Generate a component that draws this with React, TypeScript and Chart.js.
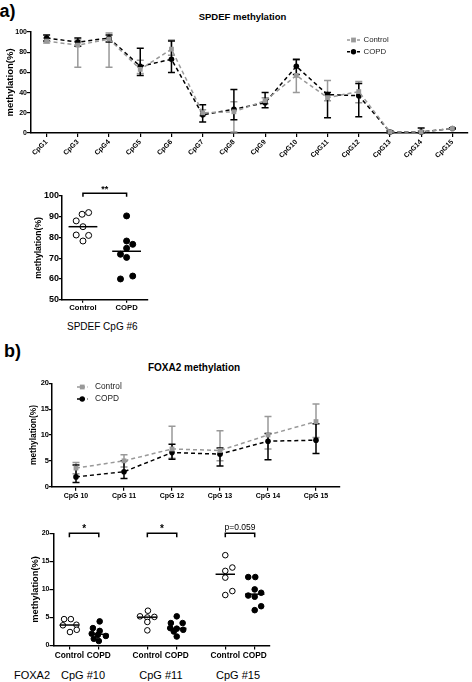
import React, { useEffect, useRef } from "react";
import { Chart, registerables } from "chart.js";

Chart.register(...registerables);

const FONT = "'Liberation Sans', Arial, Helvetica, sans-serif";
Chart.defaults.font.family = FONT;
Chart.defaults.color = "#000";

const GRAY = "#999999";
const BLACK = "#000000";

// ---------- a) SPDEF methylation profile ----------
const spdefSites = ["CpG1", "CpG3", "CpG4", "CpG5", "CpG6", "CpG7", "CpG8", "CpG9", "CpG10", "CpG11", "CpG12", "CpG13", "CpG14", "CpG15"];
const spdefControlMean = [91, 87, 93, 63, 83, 20, 21, 32, 57, 35, 41, 1, 1, 4.5];
const spdefControlHigh = [94, 92, 99, 72, 92, 23, 31, 35, 72, 52, 51, 2, 2, 5];
const spdefControlLow = [89, 65, 65, 59, 77, 17, 1, 29, 40, 32, 30, 0, 0, 4];
const spdefCopdMean = [94, 90, 94, 66, 73, 18, 23.5, 30, 66, 38, 37, 1, 1, 4.5];
const spdefCopdHigh = [97, 94, 97, 84, 91, 28, 43, 40, 73, 40, 49, 2, 5, 5];
const spdefCopdLow = [91, 86, 90, 57, 60, 11, 13, 25, 58, 15, 16, 0, 0, 4];

// ---------- a) SPDEF CpG #6 scatter ----------
const groupLabels = ["Control", "COPD"];
const cpg6Positions = [1, 2];
const cpg6Control = [88, 91.2, 92, 85.2, 81.2, 81, 78.3];
const cpg6ControlJitter = [-0.155, -0.02, 0.13, 0, -0.155, 0.13, 0];
const cpg6Copd = [90.4, 78.3, 76.7, 74.8, 71.9, 70.4, 60, 61.4];
const cpg6CopdJitter = [0, 0, 0.14, 0, -0.14, 0, -0.14, 0.14];
const cpg6Significance = "**";

// ---------- b) FOXA2 methylation profile ----------
const foxa2Sites = ["CpG 10", "CpG 11", "CpG 12", "CpG 13", "CpG 14", "CpG 15"];
const foxa2ControlMean = [3.6, 5.0, 7.3, 7.0, 10.0, 12.6];
const foxa2ControlHigh = [4.7, 6.2, 11.7, 10.8, 13.6, 16.0];
const foxa2ControlLow = [2.5, 3.8, 5.5, 5.0, 7.3, 9.5];
const foxa2CopdMean = [1.9, 2.9, 6.6, 6.3, 8.8, 9.0];
const foxa2CopdHigh = [4.2, 5.0, 8.2, 7.5, 10.3, 12.2];
const foxa2CopdLow = [0.8, 1.6, 5.3, 4.0, 5.2, 6.4];

// ---------- b) FOXA2 scatter (CpG #10, #11, #15) ----------
const foxa2ScatterSites = ["CpG #10", "CpG #11", "CpG #15"];
const foxa2ScatterPositions = [1, 2, 3.65, 4.65, 6.3, 7.3];
const foxa2ScatterControl = [
  [4.7, 4.7, 3.6, 3.7, 2.4, 2.8],
  [6.2, 5.2, 5.0, 5.1, 4.2, 2.7],
  [16.1, 13.3, 13.9, 12.1, 9.0, 9.7],
];
const foxa2ScatterControlJitter = [
  [-0.18, 0.05, -0.22, 0.24, 0.02, 0.25],
  [0.02, -0.25, 0.0, 0.24, 0.0, 0.0],
  [0.0, 0.0, 0.24, 0.0, 0.0, 0.24],
];
const foxa2ScatterCopd = [
  [4.3, 3.1, 2.6, 2.1, 1.9, 1.7, 1.2, 0.8],
  [5.2, 4.0, 4.0, 3.1, 3.0, 2.8, 2.5, 1.6],
  [12.2, 12.2, 10.0, 9.4, 8.9, 8.7, 7.0, 6.3],
];
const foxa2ScatterCopdJitter = [
  [0.03, -0.2, 0.03, -0.24, -0.03, 0.24, -0.17, 0.0],
  [0.0, -0.2, 0.2, -0.22, 0.0, 0.22, -0.1, 0.0],
  [-0.22, 0.02, 0.0, 0.22, -0.22, 0.0, 0.22, 0.0],
];
const foxa2Significance = ["*", "*", "p=0.059"];

// ---------- plugins ----------
const errorBarPlugin = {
  id: "errorBars",
  beforeDatasetsDraw(chart: any, _args: any, opts: any) {
    const ctx = chart.ctx;
    const ys = chart.scales.y;
    const cap = (opts && opts.cap) || 3.5;
    chart.data.datasets.forEach((ds: any, di: number) => {
      if (!ds.errHigh) return;
      const meta = chart.getDatasetMeta(di);
      ctx.save();
      ctx.strokeStyle = ds.borderColor;
      ctx.lineWidth = 1.5;
      ctx.setLineDash([]);
      meta.data.forEach((pt: any, i: number) => {
        const x = pt.x;
        const yh = ys.getPixelForValue(ds.errHigh[i]);
        const yl = ys.getPixelForValue(ds.errLow[i]);
        ctx.beginPath();
        ctx.moveTo(x, yh);
        ctx.lineTo(x, yl);
        ctx.moveTo(x - cap, yh);
        ctx.lineTo(x + cap, yh);
        ctx.moveTo(x - cap, yl);
        ctx.lineTo(x + cap, yl);
        ctx.stroke();
      });
      ctx.restore();
    });
  },
};

const dashLegendPlugin = {
  id: "dashLegend",
  afterDraw(chart: any, _args: any, opts: any) {
    if (!opts || opts.x == null) return;
    const ctx = chart.ctx;
    chart.data.datasets.forEach((ds: any, k: number) => {
      const y = opts.y + k * opts.spacing;
      const color = ds.borderColor;
      ctx.save();
      ctx.strokeStyle = color;
      ctx.lineWidth = 1.5;
      ctx.setLineDash([3, 2]);
      ctx.beginPath();
      ctx.moveTo(opts.x, y);
      ctx.lineTo(opts.x + opts.lineLength, y);
      ctx.stroke();
      ctx.setLineDash([]);
      ctx.fillStyle = color;
      const cx = opts.x + opts.lineLength / 2;
      if (ds.pointStyle === "rect") {
        ctx.fillRect(cx - 2.4, y - 2.4, 4.8, 4.8);
      } else {
        ctx.beginPath();
        ctx.arc(cx, y, 2.7, 0, Math.PI * 2);
        ctx.fill();
      }
      ctx.fillStyle = "#222";
      ctx.font = opts.font;
      ctx.textBaseline = "middle";
      ctx.textAlign = "left";
      ctx.fillText(ds.label, opts.x + opts.lineLength + opts.gap, y);
      ctx.restore();
    });
  },
};

const medianPlugin = {
  id: "medians",
  afterDatasetsDraw(chart: any, _args: any, opts: any) {
    const ctx = chart.ctx;
    const xs = chart.scales.x;
    const ys = chart.scales.y;
    chart.data.datasets.forEach((ds: any) => {
      if (ds.center == null) return;
      const vals = ds.data.map((p: any) => p.y).sort((a: number, b: number) => a - b);
      const n = vals.length;
      const med = n % 2 ? vals[(n - 1) / 2] : (vals[n / 2 - 1] + vals[n / 2]) / 2;
      const y = ys.getPixelForValue(med);
      ctx.save();
      ctx.strokeStyle = BLACK;
      ctx.lineWidth = 1.5;
      ctx.beginPath();
      ctx.moveTo(xs.getPixelForValue(ds.center - opts.halfWidth), y);
      ctx.lineTo(xs.getPixelForValue(ds.center + opts.halfWidth), y);
      ctx.stroke();
      ctx.restore();
    });
  },
};

const bracketPlugin = {
  id: "brackets",
  afterDraw(chart: any, _args: any, opts: any) {
    if (!opts || !opts.items) return;
    const ctx = chart.ctx;
    const xs = chart.scales.x;
    const ys = chart.scales.y;
    opts.items.forEach((b: any) => {
      const x1 = xs.getPixelForValue(b.from);
      const x2 = xs.getPixelForValue(b.to);
      const y = ys.getPixelForValue(b.at) - opts.lift;
      ctx.save();
      ctx.strokeStyle = BLACK;
      ctx.lineWidth = 1.5;
      ctx.beginPath();
      ctx.moveTo(x1, y + opts.leg);
      ctx.lineTo(x1, y);
      ctx.lineTo(x2, y);
      ctx.lineTo(x2, y + opts.leg);
      ctx.stroke();
      ctx.fillStyle = BLACK;
      ctx.font = b.font;
      ctx.textAlign = "center";
      ctx.textBaseline = "alphabetic";
      ctx.fillText(b.label, (x1 + x2) / 2, y - b.gap);
      ctx.restore();
    });
  },
};

// ---------- helpers ----------
function tickAxis(size: number, tickLen: number, pad: number, extraTicks: any = {}) {
  return {
    border: { display: true, color: BLACK, width: 1.5 },
    grid: { display: true, drawOnChartArea: false, drawTicks: true, tickLength: tickLen, color: BLACK, lineWidth: 1.2, offset: false },
    ticks: { color: BLACK, font: { family: FONT, size, weight: "bold" }, padding: pad, autoSkip: false, ...extraTicks },
  };
}

function yTitle(size: number, pad: number) {
  return { display: true, text: "methylation(%)", color: BLACK, font: { family: FONT, size, weight: "bold" }, padding: { top: pad, bottom: 0 } };
}

function profileDataset(label: string, mean: number[], low: number[], high: number[], color: string, shape: string) {
  return {
    label,
    data: mean,
    errLow: low,
    errHigh: high,
    borderColor: color,
    backgroundColor: color,
    pointBackgroundColor: color,
    pointBorderColor: color,
    borderWidth: 1.5,
    borderDash: [4, 3],
    pointStyle: shape,
    pointRadius: shape === "rect" ? 3.4 : 2.8,
    pointBorderWidth: 0,
    tension: 0,
    fill: false,
    clip: false,
  };
}

function scatterDataset(label: string, center: number, values: number[], jitter: number[], filled: boolean, radius: number) {
  return {
    label,
    center,
    data: values.map((v, i) => ({ x: center + jitter[i], y: v })),
    pointStyle: "circle",
    pointRadius: radius,
    pointBorderWidth: 1,
    pointBorderColor: BLACK,
    pointBackgroundColor: filled ? BLACK : "#ffffff",
    borderColor: BLACK,
    backgroundColor: filled ? BLACK : "#ffffff",
    showLine: false,
    clip: false,
  };
}

const baseOptions = {
  responsive: false,
  animation: false,
  devicePixelRatio: 1,
  events: [],
};

// ---------- chart configs ----------
function makeSpdefProfile() {
  return {
    type: "line",
    data: {
      labels: spdefSites,
      datasets: [
        profileDataset("Control", spdefControlMean, spdefControlLow, spdefControlHigh, GRAY, "rect"),
        profileDataset("COPD", spdefCopdMean, spdefCopdLow, spdefCopdHigh, BLACK, "circle"),
      ],
    },
    options: {
      ...baseOptions,
      layout: { padding: { left: 0, right: 3, top: 32, bottom: 0 } },
      plugins: {
        legend: { display: false },
        tooltip: { enabled: false },
        errorBars: { cap: 3.5 },
        dashLegend: { x: 347, y: 40, spacing: 11.7, lineLength: 13, gap: 3.5, font: `7.8px ${FONT}` },
      },
      scales: {
        x: {
          type: "category",
          offset: true,
          ...tickAxis(7, 4, 1, { maxRotation: 45, minRotation: 45 }),
          afterFit: (s: any) => {
            s.height = 32;
          },
        },
        y: {
          min: 0,
          max: 100,
          ...tickAxis(7, 4, 0, { stepSize: 20 }),
          title: yTitle(9.5, 4.8),
          afterFit: (s: any) => {
            s.width = 31;
          },
        },
      },
    },
    plugins: [errorBarPlugin, dashLegendPlugin],
  };
}

function makeCpg6Scatter() {
  return {
    type: "scatter",
    data: {
      datasets: [
        scatterDataset(groupLabels[0], cpg6Positions[0], cpg6Control, cpg6ControlJitter, false, 3),
        scatterDataset(groupLabels[1], cpg6Positions[1], cpg6Copd, cpg6CopdJitter, true, 3),
      ],
    },
    options: {
      ...baseOptions,
      layout: { padding: { left: 0, right: 12, top: 16, bottom: 0 } },
      plugins: {
        legend: { display: false },
        tooltip: { enabled: false },
        medians: { halfWidth: 0.33 },
        brackets: {
          lift: 2.7,
          leg: 3.4,
          items: [{ from: cpg6Positions[0], to: cpg6Positions[1], at: 100, label: cpg6Significance, font: `bold 9px ${FONT}`, gap: 1 }],
        },
      },
      scales: {
        x: {
          type: "linear",
          min: 0.52,
          max: 2.49,
          ...tickAxis(7.7, 3, 1, { callback: (_v: any, i: number) => groupLabels[i] }),
          afterBuildTicks: (s: any) => {
            s.ticks = cpg6Positions.map((v) => ({ value: v }));
          },
          afterFit: (s: any) => {
            s.height = 20.3;
          },
        },
        y: {
          min: 50,
          max: 100,
          ...tickAxis(9, 3, 0, { stepSize: 10 }),
          title: yTitle(8.6, 33.1),
          afterFit: (s: any) => {
            s.width = 62;
          },
        },
      },
    },
    plugins: [medianPlugin, bracketPlugin],
  };
}

function makeFoxa2Profile() {
  return {
    type: "line",
    data: {
      labels: foxa2Sites,
      datasets: [
        profileDataset("Control", foxa2ControlMean, foxa2ControlLow, foxa2ControlHigh, GRAY, "rect"),
        profileDataset("COPD", foxa2CopdMean, foxa2CopdLow, foxa2CopdHigh, BLACK, "circle"),
      ],
    },
    options: {
      ...baseOptions,
      layout: { padding: { left: 0, right: 10, top: 8.3, bottom: 0 } },
      plugins: {
        legend: { display: false },
        tooltip: { enabled: false },
        errorBars: { cap: 3.5 },
        dashLegend: { x: 77, y: 12, spacing: 12, lineLength: 10.5, gap: 7.5, font: `8.3px ${FONT}` },
      },
      scales: {
        x: {
          type: "category",
          offset: true,
          ...tickAxis(7, 4, 1, { maxRotation: 0, minRotation: 0 }),
          afterFit: (s: any) => {
            s.height = 18.3;
          },
        },
        y: {
          min: 0,
          max: 20,
          ...tickAxis(7.5, 3, 0, { stepSize: 5 }),
          title: yTitle(8.4, 28.3),
          afterFit: (s: any) => {
            s.width = 52;
          },
        },
      },
    },
    plugins: [errorBarPlugin, dashLegendPlugin],
  };
}

function makeFoxa2Scatter() {
  const datasets: any[] = [];
  const labels: string[] = [];
  const brackets: any[] = [];
  foxa2ScatterSites.forEach((_site, k) => {
    const pc = foxa2ScatterPositions[2 * k];
    const pd = foxa2ScatterPositions[2 * k + 1];
    datasets.push(scatterDataset(groupLabels[0], pc, foxa2ScatterControl[k], foxa2ScatterControlJitter[k], false, 2.8));
    datasets.push(scatterDataset(groupLabels[1], pd, foxa2ScatterCopd[k], foxa2ScatterCopdJitter[k], true, 2.8));
    labels.push(groupLabels[0], groupLabels[1]);
    const star = foxa2Significance[k].startsWith("*");
    brackets.push({
      from: pc,
      to: pd,
      at: 20,
      label: foxa2Significance[k],
      font: star ? `bold 10px ${FONT}` : `8.5px ${FONT}`,
      gap: star ? 1.8 : 3.3,
    });
  });
  return {
    type: "scatter",
    data: { datasets },
    options: {
      ...baseOptions,
      layout: { padding: { left: 0, right: 20, top: 13.3, bottom: 0 } },
      plugins: {
        legend: { display: false },
        tooltip: { enabled: false },
        medians: { halfWidth: 0.33 },
        brackets: { lift: 0, leg: 4, items: brackets },
      },
      scales: {
        x: {
          type: "linear",
          min: 0.46,
          max: 7.82,
          ...tickAxis(8.3, 4, 1, { callback: (_v: any, i: number) => labels[i] }),
          afterBuildTicks: (s: any) => {
            s.ticks = foxa2ScatterPositions.map((v) => ({ value: v }));
          },
          afterFit: (s: any) => {
            s.height = 19.5;
          },
        },
        y: {
          min: 0,
          max: 20,
          ...tickAxis(7, 4, 0, { stepSize: 5 }),
          title: yTitle(9.3, 29.9),
          afterFit: (s: any) => {
            s.width = 53.5;
          },
        },
      },
    },
    plugins: [medianPlugin, bracketPlugin],
  };
}

// ---------- components ----------
function ChartBox(props: { left: number; top: number; width: number; height: number; make: () => any }) {
  const { left, top, width, height, make } = props;
  const ref = useRef<HTMLCanvasElement | null>(null);
  useEffect(() => {
    if (!ref.current) return;
    const chart = new Chart(ref.current, make());
    return () => chart.destroy();
  }, [make]);
  return <canvas ref={ref} width={width} height={height} style={{ position: "absolute", left, top, width, height }} />;
}

function Label(props: { text: string; left: number; top: number; size: number; bold?: boolean; center?: boolean }) {
  const { text, left, top, size, bold, center } = props;
  return (
    <div
      style={{
        position: "absolute",
        left,
        top,
        fontFamily: FONT,
        fontSize: size,
        lineHeight: `${size}px`,
        fontWeight: bold ? "bold" : "normal",
        color: "#000",
        whiteSpace: "nowrap",
        transform: center ? "translateX(-50%)" : undefined,
      }}
    >
      {text}
    </div>
  );
}

export default function App() {
  return (
    <div style={{ position: "fixed", left: 0, top: 0, width: 472, height: 682, background: "#fff", overflow: "hidden" }}>
      <Label text="a)" left={-0.5} top={1.5} size={18} bold />
      <Label text="SPDEF methylation" left={242.5} top={12.3} size={9.5} bold center />
      <ChartBox left={0} top={0} width={472} height={165} make={makeSpdefProfile} />
      <ChartBox left={0} top={180} width={160} height={140} make={makeCpg6Scatter} />
      <Label text="SPDEF CpG #6" left={67} top={322} size={10} />
      <Label text="b)" left={4} top={341.5} size={18} bold />
      <Label text="FOXA2 methylation" left={194} top={363} size={10} bold center />
      <ChartBox left={0} top={375} width={350} height={130} make={makeFoxa2Profile} />
      <ChartBox left={0} top={520} width={290} height={145} make={makeFoxa2Scatter} />
      <Label text="FOXA2" left={14} top={669.6} size={11} />
      <Label text={foxa2ScatterSites[0]} left={61} top={669.6} size={11} />
      <Label text={foxa2ScatterSites[1]} left={139.3} top={669.6} size={11} />
      <Label text={foxa2ScatterSites[2]} left={216} top={669.6} size={11} />
    </div>
  );
}
